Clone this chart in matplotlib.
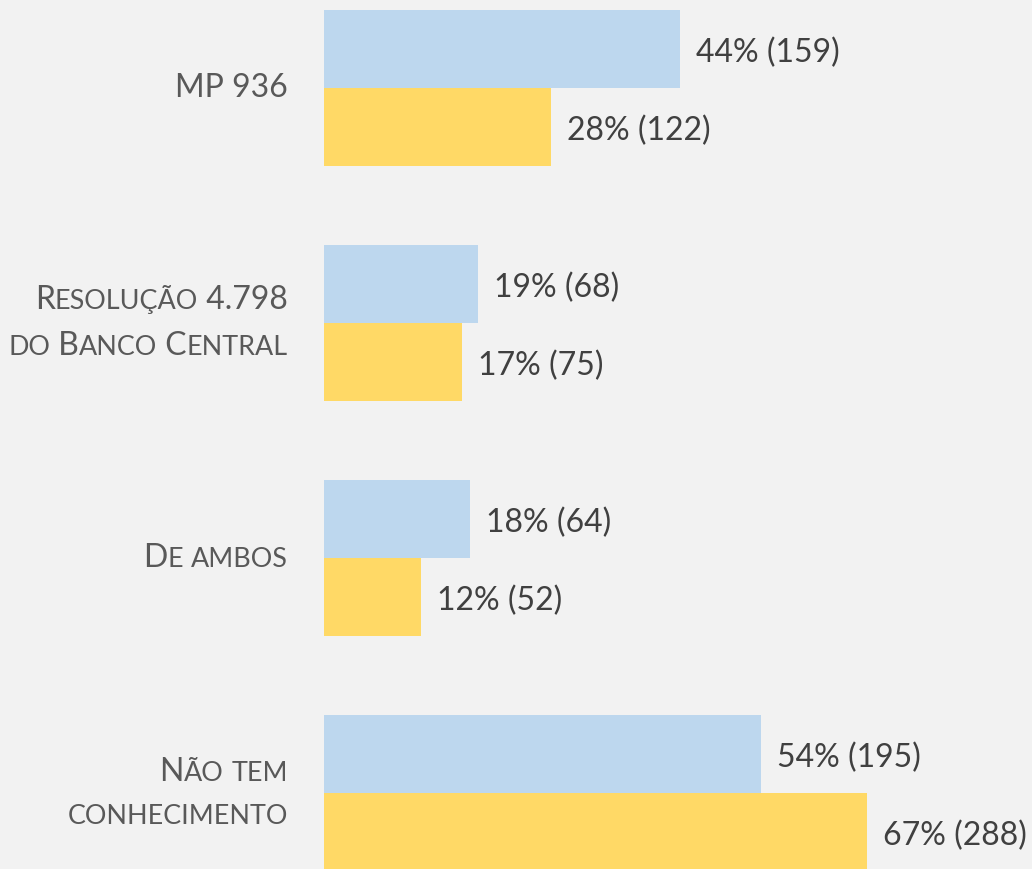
import numpy as np
import matplotlib.pyplot as plt
from matplotlib.offsetbox import TextArea, HPacker, VPacker, AnnotationBbox

categorias = [["MP 936"], ["Resolução 4.798", "do Banco Central"], ["De ambos"], ["Não tem", "conhecimento"]]
serie_azul = [44, 19, 18, 54]
contagem_azul = [159, 68, 64, 195]
serie_amarela = [28, 17, 12, 67]
contagem_amarela = [122, 75, 52, 288]

fundo = "#f2f2f2"
azul = "#bdd7ee"
amarelo = "#ffd966"
cinza_rotulo = "#595959"
cinza_valor = "#404040"
fonte = "Lato"

W, H = 1032, 869
fig = plt.figure(figsize=(W / 100, H / 100), dpi=100, facecolor=fundo)
ax = fig.add_axes([0, 0, 1, 1])
ax.set_facecolor(fundo)

px_por_pct = 8.1
x0 = 324
ax.set_xlim(-x0 / px_por_pct, (W - x0) / px_por_pct)
ax.set_ylim(H, 0)
ax.axis("off")

passo = 235
altura = 78
centros = 88 + passo * np.arange(len(categorias))

ax.barh(centros - altura / 2, serie_azul, height=altura, color=azul, align="center")
ax.barh(centros + altura / 2, serie_amarela, height=altura, color=amarelo, align="center")

tam = 23
for c, v, n in zip(centros - altura / 2, serie_azul, contagem_azul):
    ax.annotate(f"{v}% ({n})", (v, c), xytext=(16, -4), textcoords="offset pixels",
                ha="left", va="center", fontsize=tam, color=cinza_valor, family=fonte)
for c, v, n in zip(centros + altura / 2, serie_amarela, contagem_amarela):
    ax.annotate(f"{v}% ({n})", (v, c), xytext=(16, -4), textcoords="offset pixels",
                ha="left", va="center", fontsize=tam, color=cinza_valor, family=fonte)


# versalete (small caps) montado com pedaços de tamanhos diferentes
def linha_versalete(txt, size, pequeno=0.84):
    pedacos = []
    atual, eh_min = "", None
    for ch in txt:
        m = ch.islower()
        if eh_min is None or m == eh_min:
            atual += ch
        else:
            pedacos.append((atual, eh_min))
            atual = ch
        eh_min = m
    pedacos.append((atual, eh_min))
    caixas = []
    for p, m in pedacos:
        s = size * pequeno if m else size
        caixas.append(TextArea(p.upper(), textprops=dict(fontsize=s, color=cinza_rotulo, family=fonte)))
    return HPacker(children=caixas, align="baseline", pad=0, sep=0)


for linhas, c in zip(categorias, centros):
    box = VPacker(children=[linha_versalete(l, 23) for l in linhas], align="right", pad=0, sep=12)
    ab = AnnotationBbox(box, (-36 / px_por_pct, c), xycoords="data", box_alignment=(1, 0.5),
                        frameon=False, pad=0)
    ax.add_artist(ab)

fig.savefig("out.png", dpi=100, facecolor=fundo)
